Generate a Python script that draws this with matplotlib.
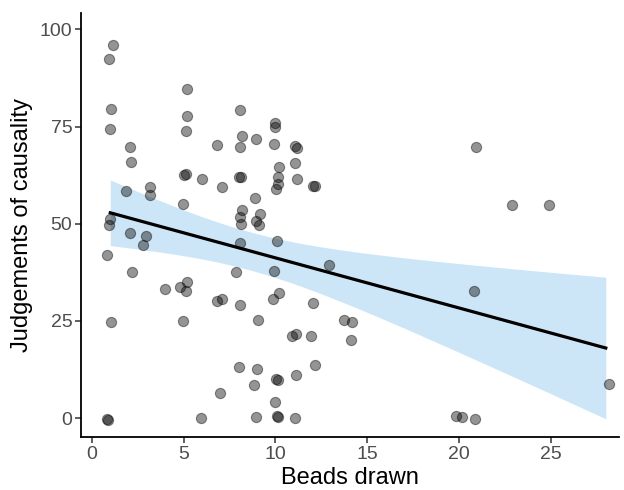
import numpy as np
import matplotlib
matplotlib.use("Agg")
from matplotlib import pyplot as plt

# points (jittered positions)
beads = [1.16, 0.93, 5.16, 1.05, 5.16, 5.12, 0.96, 2.05, 6.80, 2.13,
         5.03, 5.10, 6.00, 7.10, 3.16, 3.18, 1.88, 4.95, 1.00, 0.94,
         2.09, 2.93, 2.80, 0.80, 2.18, 3.98, 4.80, 5.16, 5.12, 6.79,
         7.07, 1.02, 4.97, 6.98, 0.80, 0.90, 5.96, 8.05, 9.96, 10.00,
         8.19, 8.05, 8.95, 9.90, 11.05, 11.19, 11.08, 10.19, 8.00, 8.10,
         10.15, 11.17, 10.13, 10.04, 12.03, 12.15, 8.90, 8.16, 9.17, 8.05,
         8.14, 8.94, 9.08, 10.10, 8.07, 12.93, 7.86, 9.90, 8.05, 9.88,
         10.17, 12.06, 9.06, 10.90, 11.10, 11.92, 13.73, 14.15, 14.10, 7.99,
         8.99, 12.18, 11.12, 10.01, 10.13, 8.83, 9.99, 8.93, 10.06, 10.13,
         11.08, 20.91, 22.87, 24.90, 20.83, 28.19, 19.84, 20.15, 20.87]
judgement = [96.1, 92.5, 84.7, 79.6, 77.8, 73.9, 74.4, 69.7, 70.3, 65.8,
             62.5, 62.8, 61.6, 59.5, 59.5, 57.4, 58.5, 55.2, 51.2, 49.7,
             47.5, 46.9, 44.6, 41.9, 37.6, 33.1, 33.8, 35.0, 32.6, 30.0,
             30.7, 24.7, 24.9, 6.4, -0.2, -0.4, -0.1, 79.3, 76.0, 75.0,
             72.6, 69.7, 71.7, 70.5, 70.1, 69.4, 65.7, 64.5, 61.9, 62.0,
             61.9, 61.6, 60.2, 58.9, 59.8, 59.8, 56.6, 53.5, 52.6, 51.8,
             49.9, 50.6, 49.7, 45.6, 45.1, 39.5, 37.5, 37.9, 29.2, 30.7,
             32.1, 29.6, 25.1, 21.0, 21.7, 21.1, 25.1, 24.8, 20.1, 13.2,
             12.6, 13.7, 11.1, 10.0, 9.8, 8.6, 4.1, 0.15, 0.4, 0.15,
             0.0, 69.7, 54.8, 54.7, 32.7, 8.8, 0.5, 0.3, -0.3]

x = np.array(beads)
y = np.array(judgement)

# linear fit with 95% CI (like geom_smooth(method = "lm")), on whole bead counts
xr = np.round(x)
n = len(xr)
slope, intercept = np.polyfit(xr, y, 1)
resid = y - (intercept + slope * xr)
s = np.sqrt(np.sum(resid ** 2) / (n - 2))
sxx = np.sum((xr - xr.mean()) ** 2)
t_crit = 1.9847  # t(0.975, df=97)
xs = np.linspace(xr.min(), xr.max(), 100)
fit = intercept + slope * xs
hw = t_crit * s * np.sqrt(1 / n + (xs - xr.mean()) ** 2 / sxx)

plt.rcParams['font.family'] = ['Liberation Sans', 'DejaVu Sans']

fig = plt.figure(figsize=(6.24, 4.9), dpi=100)
ax = fig.add_axes([81.3 / 624, 53.3 / 490, (619 - 81.3) / 624, (436.7 - 12.7) / 490])

ax.fill_between(xs, fit - hw, fit + hw, color='#cde6f7', lw=0, zorder=1)
ax.scatter(x, y, s=54, c='black', alpha=0.42, edgecolors='black', linewidths=0.8, zorder=2)
ax.plot(xs, fit, color='black', lw=2.3, zorder=3)

ax.set_xlim(-0.58, 28.72)
ax.set_ylim(-4.8, 104.3)
ax.set_xticks([0, 5, 10, 15, 20, 25])
ax.set_yticks([0, 25, 50, 75, 100])
ax.set_xlabel('Beads drawn', fontsize=17, color='black', labelpad=3)
ax.set_ylabel('Judgements of causality', fontsize=17, color='black', labelpad=5)
ax.tick_params(axis='both', labelsize=14, labelcolor='#4d4d4d', color='#333333',
               length=4, width=1.1, pad=2.5)

for side in ['top', 'right']:
    ax.spines[side].set_visible(False)
for side in ['left', 'bottom']:
    ax.spines[side].set_linewidth(1.3)
    ax.spines[side].set_color('black')

fig.savefig('out.png', dpi=100)
